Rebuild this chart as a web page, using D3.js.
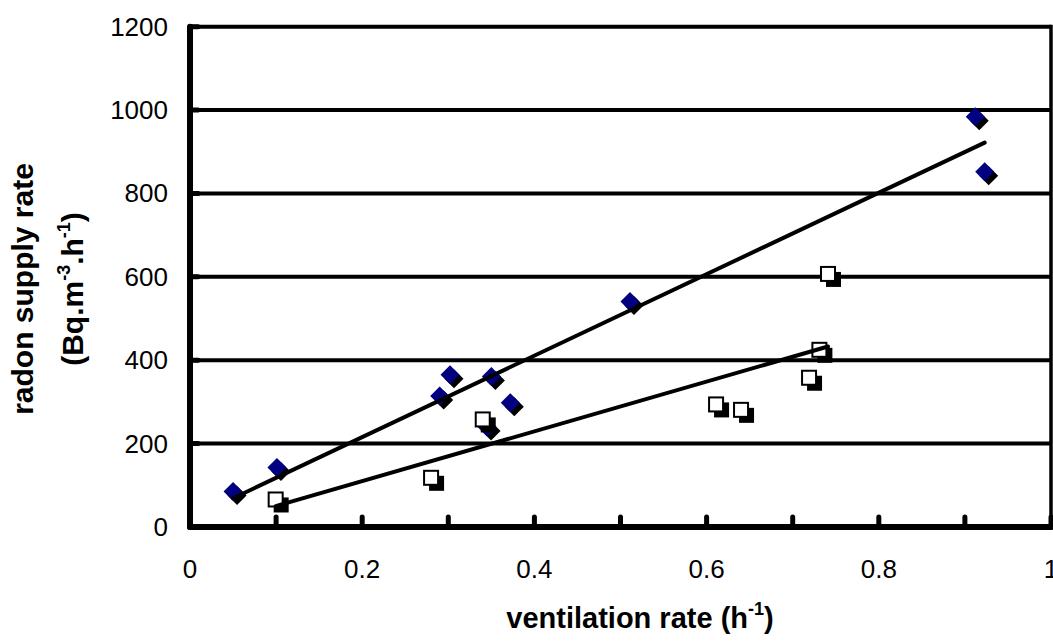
<!DOCTYPE html>
<html>
<head>
<meta charset="utf-8">
<script src="https://cdn.jsdelivr.net/npm/d3@7"></script>
<style>
  html, body { margin: 0; padding: 0; background: #fff; }
  svg { display: block; }
  text { font-family: "Liberation Sans", Arial, sans-serif; fill: #000; }
</style>
</head>
<body>
<svg id="chart" width="1053" height="642"></svg>
<script>
// ---- data ----
const ventA  = [0.050, 0.101, 0.290, 0.302, 0.345, 0.350, 0.372, 0.511, 0.912, 0.923];
const radonA = [85, 143, 314, 365, 240, 361, 298, 541, 984, 852];
const ventB  = [0.0995, 0.280, 0.340, 0.611, 0.640, 0.719, 0.731, 0.741];
const radonB = [66, 118, 258, 294, 281, 358, 425, 607];
const trendAx = [0.050, 0.923], trendAy = [69, 922];
const trendBx = [0.0995, 0.741], trendBy = [50, 433];
const xTicks = [0, 0.2, 0.4, 0.6, 0.8, 1];
const xMinor = [0.1, 0.2, 0.3, 0.4, 0.5, 0.6, 0.7, 0.8, 0.9, 1.0];
const yTicks = [0, 200, 400, 600, 800, 1000, 1200];

const svg = d3.select("#chart");
const L = 190, R = 1051, T = 26.7, B = 527;
const x = d3.scaleLinear().domain([0, 1]).range([L, R]);
const y = d3.scaleLinear().domain([0, 1200]).range([B, T]);

// gridlines
svg.append("g").selectAll("line").data(yTicks.filter(d => d > 0)).join("line")
  .attr("x1", L).attr("x2", R).attr("y1", d => y(d)).attr("y2", d => y(d))
  .attr("stroke", "#000").attr("stroke-width", 4);

// right border
svg.append("line").attr("x1", R).attr("x2", R).attr("y1", T - 2).attr("y2", B)
  .attr("stroke", "#000").attr("stroke-width", 3.5);

// y ticks (inside)
svg.append("g").selectAll("line").data(yTicks).join("line")
  .attr("x1", L).attr("x2", L + 8).attr("y1", d => y(d)).attr("y2", d => y(d))
  .attr("stroke", "#000").attr("stroke-width", 5).attr("stroke-linecap", "round");

// x ticks (inside)
svg.append("g").selectAll("line").data(xMinor).join("line")
  .attr("x1", d => x(d)).attr("x2", d => x(d)).attr("y1", B).attr("y2", B - 10)
  .attr("stroke", "#000").attr("stroke-width", 5).attr("stroke-linecap", "round");

// axes lines
svg.append("line").attr("x1", L).attr("x2", L).attr("y1", T).attr("y2", B)
  .attr("stroke", "#000").attr("stroke-width", 6).attr("stroke-linecap", "round");
svg.append("line").attr("x1", L).attr("x2", R).attr("y1", B).attr("y2", B)
  .attr("stroke", "#000").attr("stroke-width", 6).attr("stroke-linecap", "round");

// tick labels
svg.append("g").selectAll("text").data(yTicks).join("text")
  .attr("x", L - 22).attr("y", d => y(d) + 9)
  .attr("text-anchor", "end").attr("font-size", 26)
  .text(d => d);
svg.append("g").selectAll("text").data(xTicks).join("text")
  .attr("x", d => x(d)).attr("y", 578)
  .attr("text-anchor", "middle").attr("font-size", 26)
  .text(d => d3.format("")(d));

// series A: diamonds with shadow
const ptsA = ventA.map((v, i) => [v, radonA[i]]);
const ptsB = ventB.map((v, i) => [v, radonB[i]]);
const dsz = 9.5;
const diamond = (cx, cy) => `M${cx},${cy - dsz}L${cx + dsz},${cy}L${cx},${cy + dsz}L${cx - dsz},${cy}Z`;
const gA = svg.append("g");
gA.selectAll("path.sh").data(ptsA).join("path").attr("class", "sh")
  .attr("d", d => diamond(x(d[0]) + 4, y(d[1]) + 4)).attr("fill", "#000");
gA.selectAll("path.mk").data(ptsA).join("path").attr("class", "mk")
  .attr("d", d => diamond(x(d[0]), y(d[1]))).attr("fill", "#000080");

// series B: squares with shadow
const ssz = 14;
const gB = svg.append("g");
ptsB.forEach(d => {
  gB.append("rect").attr("x", x(d[0]) - ssz / 2 + 5).attr("y", y(d[1]) - ssz / 2 + 5)
    .attr("width", ssz + 1).attr("height", ssz + 1).attr("fill", "#000");
  gB.append("rect").attr("x", x(d[0]) - ssz / 2).attr("y", y(d[1]) - ssz / 2)
    .attr("width", ssz).attr("height", ssz).attr("fill", "#fff")
    .attr("stroke", "#000").attr("stroke-width", 2);
});

// trend lines
const line = d3.line().x(d => x(d[0])).y(d => y(d[1]));
svg.append("path").attr("d", line(trendAx.map((v, i) => [v, trendAy[i]])))
  .attr("stroke", "#000").attr("stroke-width", 4).attr("fill", "none").attr("stroke-linecap", "round");
svg.append("path").attr("d", line(trendBx.map((v, i) => [v, trendBy[i]])))
  .attr("stroke", "#000").attr("stroke-width", 4).attr("fill", "none").attr("stroke-linecap", "round");

// axis titles
const xt = svg.append("text").attr("x", 640).attr("y", 628)
  .attr("text-anchor", "middle").attr("font-size", 29).attr("font-weight", "bold");
xt.append("tspan").text("ventilation rate (h");
xt.append("tspan").attr("font-size", 18).attr("dy", -13).text("-1");
xt.append("tspan").attr("dy", 13).text(")");

const yt = svg.append("text").attr("transform", "translate(33,289) rotate(-90)")
  .attr("text-anchor", "middle").attr("font-size", 30).attr("font-weight", "bold");
yt.append("tspan").attr("x", 0).attr("y", 0).text("radon supply rate");
const yt2 = svg.append("text").attr("transform", "translate(83,289) rotate(-90)")
  .attr("text-anchor", "middle").attr("font-size", 30).attr("font-weight", "bold");
yt2.append("tspan").text("(Bq.m");
yt2.append("tspan").attr("font-size", 18).attr("dy", -13).text("-3");
yt2.append("tspan").attr("dy", 13).text(".h");
yt2.append("tspan").attr("font-size", 18).attr("dy", -13).text("-1");
yt2.append("tspan").attr("dy", 13).text(")");
</script>
</body>
</html>
